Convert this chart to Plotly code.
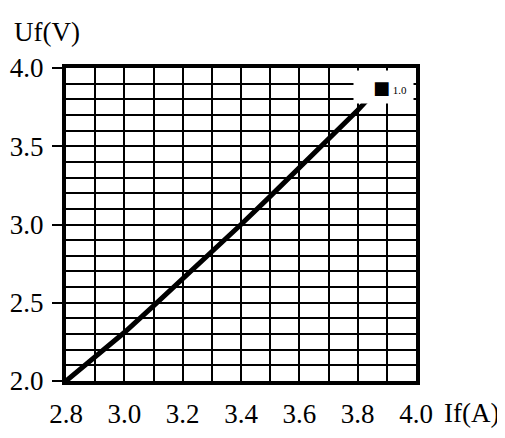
import plotly.graph_objects as go

# corriente If (A) y tensión Uf (V)
if_a = [2.80, 2.90, 3.00, 3.10, 3.20, 3.30, 3.40, 3.50, 3.60, 3.70, 3.80, 3.83]
uf_v = [2.00, 2.15, 2.31, 2.48, 2.65, 2.83, 3.00, 3.18, 3.36, 3.55, 3.73, 3.79]

x_ticks = [2.8, 3.0, 3.2, 3.4, 3.6, 3.8, 4.0]
y_ticks = [2.0, 2.5, 3.0, 3.5, 4.0]
serie = "1.0"

FONT = "Liberation Serif"
W, H = 497, 430          # la página tiene 8 px de margen en el body
L, R, T, B = 58, 89, 60, 57
pw, ph = W - L - R, H - T - B

fig = go.Figure()
fig.add_trace(go.Scatter(x=if_a, y=uf_v, mode="lines", name=serie,
                         line=dict(color="black", width=5), showlegend=False))

fig.update_xaxes(range=[2.8, 4.0], tickvals=x_ticks, ticktext=[f"{v:.1f}" for v in x_ticks],
                 showgrid=True, gridcolor="black", gridwidth=2,
                 minor=dict(dtick=0.1, showgrid=True, gridcolor="black", gridwidth=2),
                 showline=True, linecolor="black", linewidth=4, mirror=True,
                 zeroline=False, ticks="", ticklabelstandoff=6, automargin=False,
                 tickfont=dict(family=FONT, size=27, color="black"))
fig.update_yaxes(range=[2.0, 4.0], tickvals=y_ticks, ticktext=[f"{v:.1f}" for v in y_ticks],
                 showgrid=True, gridcolor="black", gridwidth=2,
                 minor=dict(dtick=0.1, showgrid=True, gridcolor="black", gridwidth=2),
                 showline=True, linecolor="black", linewidth=4, mirror=True,
                 zeroline=False, ticks="outside", ticklen=10, tickwidth=2, tickcolor="black",
                 ticklabelstandoff=3, automargin=False,
                 tickfont=dict(family=FONT, size=27, color="black"))

fig.update_layout(
    width=W, height=H,
    margin=dict(l=L, r=R, t=T, b=B),
    paper_bgcolor="white", plot_bgcolor="white",
    font=dict(family=FONT, color="black"),
    showlegend=False,
    annotations=[
        dict(text="Uf(V)", xref="paper", yref="paper", x=(4 - L) / pw, y=(ph + 36) / ph,
             xanchor="left", yanchor="middle", showarrow=False,
             font=dict(family=FONT, size=27)),
        dict(text="If(A)", xref="paper", yref="paper", x=(434 - L) / pw, y=-32 / ph,
             xanchor="left", yanchor="middle", showarrow=False,
             font=dict(family=FONT, size=27)),
        # leyenda: cuadro negro + "1.0" sobre fondo blanco
        dict(text="<span style='font-family:DejaVu Sans;font-size:18px'>■</span>"
                  f"<span style='font-size:11px'> {serie}&nbsp;&nbsp;</span>",
             xref="paper", yref="paper", x=1 - 2 / pw, y=1 - 2 / ph,
             xanchor="right", yanchor="top", showarrow=False,
             width=57, height=30, bgcolor="white", align="right", valign="middle"),
    ],
)

fig.write_html("out.html")
